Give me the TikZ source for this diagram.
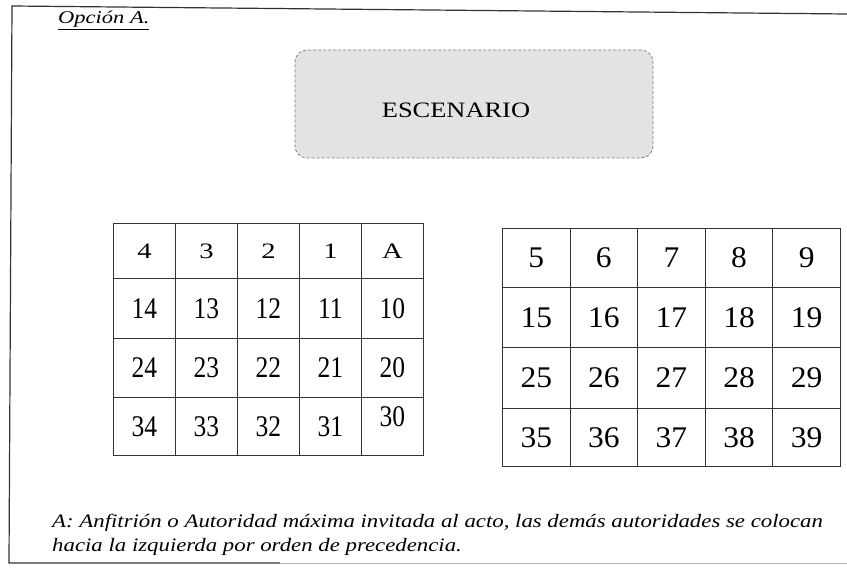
\documentclass[tikz,border=0pt]{standalone}
\usepackage{fontspec}
\setmainfont{Liberation Serif}
\usepackage{graphicx}
\newcommand{\narrowdig}[1]{\scalebox{0.85}[1]{#1}}
\newcommand{\widedig}[1]{\scalebox{1.05}[1]{#1}}
\newcommand{\toprowdig}[1]{\scalebox{1.3}[1]{#1}}
\begin{document}
\begin{tikzpicture}[x=1pt,y=-1pt,
  frameline/.style={line width=1.2pt, draw=black!80},
  gridcell/.style={draw=black!80, line width=0.9pt, inner sep=0pt, anchor=north west,
    font=\fontsize{30}{30}\selectfont, text height=20pt, text depth=0pt},
  cellL/.style={gridcell, minimum width=62pt},
  cellR/.style={gridcell, minimum width=67.6pt},
  stage/.style={draw=black!50, densely dashed, line width=0.8pt, fill=black!11, rounded corners=12pt, minimum width=358pt, minimum height=108pt, inner sep=0pt},
  note/.style={anchor=base west, inner sep=0pt, font=\fontsize{19}{19}\selectfont\itshape}
]
\useasboundingbox (0,0) rectangle (847,569);
% frame
\draw[frameline] (847,14) -- (12,6) -- (9,563) -- (280,563);
\draw[line width=0.8pt, draw=black!30] (280,563) -- (847,563);
% title
\node[anchor=base west, inner sep=0pt, font=\fontsize{18}{18}\selectfont\itshape] (title) at (58,24) {\underline{\scalebox{1.25}[1]{Opción A.}}};
% stage
\node[stage] (stage) at (474,104) {};
\node[inner sep=0pt, font=\fontsize{22}{22}\selectfont] (stagelabel) at (456,110) {\scalebox{1.2}[1]{ESCENARIO}};
% left table
\foreach [count=\c] \t in {4,3,2,1,A}
  \node[cellL, minimum height=55pt, font=\fontsize{22}{22}\selectfont, text height=15pt] (L-1-\c) at ({113+62*(\c-1)},223) {\toprowdig{\t}};
\foreach [count=\c] \t in {14,13,12,11,10}
  \node[cellL, minimum height=60pt] (L-2-\c) at ({113+62*(\c-1)},278) {\narrowdig{\t}};
\foreach [count=\c] \t in {24,23,22,21,20}
  \node[cellL, minimum height=59pt] (L-3-\c) at ({113+62*(\c-1)},338) {\narrowdig{\t}};
\foreach [count=\c] \t in {34,33,32,31}
  \node[cellL, minimum height=58pt] (L-4-\c) at ({113+62*(\c-1)},397) {\narrowdig{\t}};
\node[cellL, minimum height=58pt] (L-4-5) at (361,397) {\raisebox{10pt}{\narrowdig{30}}};
% right table
\foreach [count=\c] \t in {5,6,7,8,9}
  \node[cellR, minimum height=59pt] (R-1-\c) at ({502+67.6*(\c-1)},228) {\widedig{\t}};
\foreach [count=\c] \t in {15,16,17,18,19}
  \node[cellR, minimum height=60pt] (R-2-\c) at ({502+67.6*(\c-1)},287) {\widedig{\t}};
\foreach [count=\c] \t in {25,26,27,28,29}
  \node[cellR, minimum height=61pt] (R-3-\c) at ({502+67.6*(\c-1)},347) {\widedig{\t}};
\foreach [count=\c] \t in {35,36,37,38,39}
  \node[cellR, minimum height=58pt] (R-4-\c) at ({502+67.6*(\c-1)},408) {\widedig{\t}};
% note
\node[note] (note1) at (52,527) {\scalebox{1.2}[1]{A: Anfitrión o Autoridad máxima invitada al acto, las demás autoridades se colocan}};
\node[note] (note2) at (52,551) {\scalebox{1.2}[1]{hacia la izquierda por orden de precedencia.}};
\end{tikzpicture}
\end{document}
